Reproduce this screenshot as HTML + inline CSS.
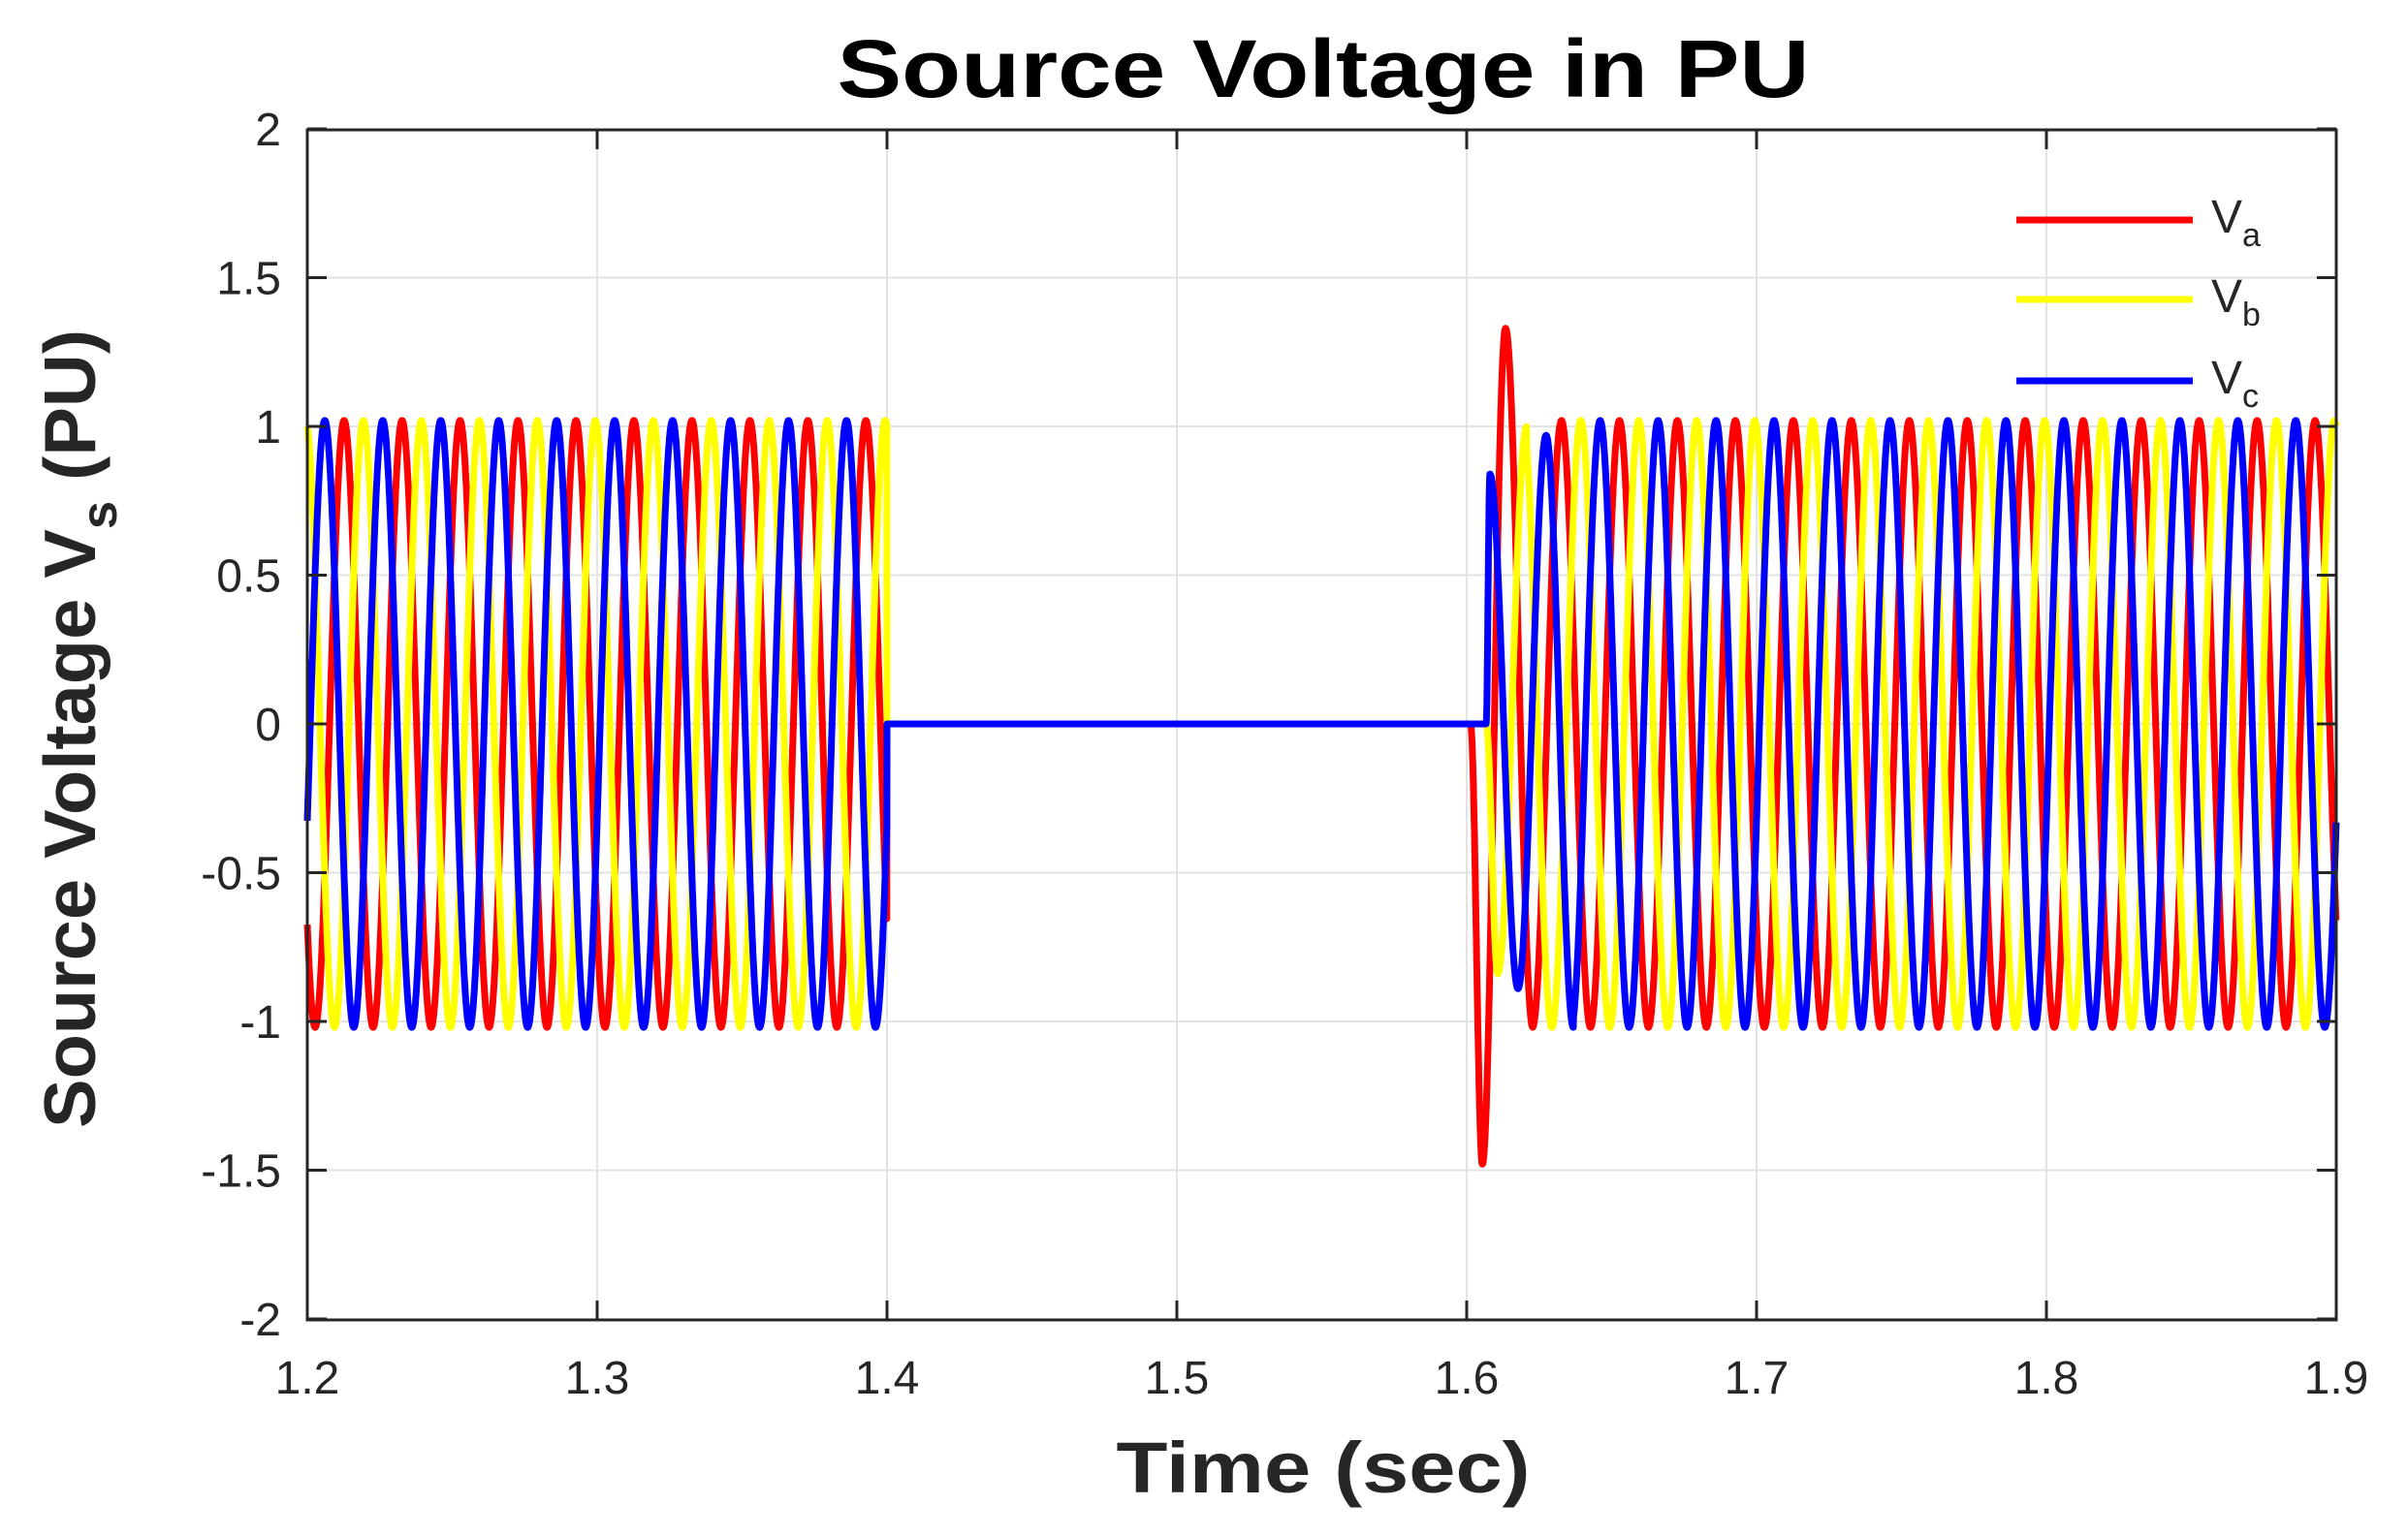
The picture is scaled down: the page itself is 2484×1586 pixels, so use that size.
<!DOCTYPE html>
<html><head><meta charset="utf-8"><style>html,body{margin:0;padding:0;background:#fff}svg{display:block}</style></head>
<body>
<svg id="s" width="2484" height="1586" viewBox="0 0 2484 1586" xmlns="http://www.w3.org/2000/svg" font-family="Liberation Sans, sans-serif">
<rect width="2484" height="1586" fill="#fff"/>
<g id="grid" stroke="#e3e3e3" stroke-width="2"></g>
<g id="series" fill="none" stroke-width="7" stroke-linejoin="round"></g>
<g id="axes" stroke="#262626" stroke-width="3" fill="none"></g>
<g id="labels" fill="#262626" font-size="48"></g>
<text x="1365" y="100" text-anchor="middle" font-size="84" font-weight="bold" fill="#000" textLength="1003" lengthAdjust="spacingAndGlyphs">Source Voltage in PU</text>
<text x="1365" y="1540" text-anchor="middle" font-size="74" font-weight="bold" fill="#262626" textLength="427" lengthAdjust="spacingAndGlyphs">Time (sec)</text>
<text transform="translate(98,752) rotate(-90)" text-anchor="middle" font-size="75" font-weight="bold" fill="#262626" textLength="824" lengthAdjust="spacingAndGlyphs">Source Voltage V<tspan font-size="52" dy="22">s</tspan><tspan dy="-22"> (PU)</tspan></text>
<g stroke-width="7">
<line x1="2080" y1="227" x2="2262" y2="227" stroke="#ff0000"/>
<line x1="2080" y1="309" x2="2262" y2="309" stroke="#ffff00"/>
<line x1="2080" y1="393" x2="2262" y2="393" stroke="#0000ff"/>
</g>
<g fill="#262626" font-size="48">
<text x="2281" y="240">V<tspan font-size="34" dy="14">a</tspan></text>
<text x="2281" y="322">V<tspan font-size="34" dy="14">b</tspan></text>
<text x="2281" y="406">V<tspan font-size="34" dy="14">c</tspan></text>
</g>
</svg>
<script>
(function(){
var NS="http://www.w3.org/2000/svg";
var L=317,R=2410,T=134,B=1362;
function X(t){return L+(t-1.2)/0.7*(R-L);}
function Y(v){return 747-v*307;}
function el(p,n,a){var e=document.createElementNS(NS,n);for(var k in a)e.setAttribute(k,a[k]);document.getElementById(p).appendChild(e);return e;}
for(var i=0;i<=7;i++){var x=X(1.2+i*0.1);if(i>0&&i<7)el('grid','line',{x1:x,y1:T,x2:x,y2:B});}
for(var j=-3;j<=3;j++){var y=Y(j*0.5);el('grid','line',{x1:L,y1:y,x2:R,y2:y});}
el('axes','rect',{x:L,y:T,width:R-L,height:B-T});
for(var i=0;i<=7;i++){var x=X(1.2+i*0.1);el('axes','line',{x1:x,y1:B,x2:x,y2:B-20});el('axes','line',{x1:x,y1:T,x2:x,y2:T+20});
 var tx=el('labels','text',{x:x,y:1438,'text-anchor':'middle'});tx.textContent=(1.2+i*0.1).toFixed(1);}
var yl=['-2','-1.5','-1','-0.5','0','0.5','1','1.5','2'];
for(var j=-4;j<=4;j++){var y=Y(j*0.5);el('axes','line',{x1:L,y1:y,x2:L+20,y2:y});el('axes','line',{x1:R,y1:y,x2:R-20,y2:y});
 var tx=el('labels','text',{x:290,y:y+17,'text-anchor':'end'});tx.textContent=yl[j+4];}
var w=2*Math.PI*50,t0=1.2127,A=1.02;
function steady(t,k){return A*Math.cos(w*(t-t0)-k*2*Math.PI/3);}
function interp(t,pts){for(var i=0;i<pts.length-1;i++){var a=pts[i],b=pts[i+1];if(t>=a[0]&&t<=b[0]){var u=(t-a[0])/(b[0]-a[0]);var s=(1-Math.cos(Math.PI*u))/2;return a[1]+(b[1]-a[1])*s;}}return null;}
var tr=[
 [[1.6013,0],[1.6054,-1.48],[1.6134,1.33],[1.6228,-1.02]],
 [[1.6067,0],[1.6107,-0.84],[1.6207,1.0]],
 [[1.6067,0],[1.6080,0.84],[1.6177,-0.89],[1.6274,0.97],[1.6368,-1.02]]
];
function val(t,k){
 if(t<=1.4)return steady(t,k);
 var p=tr[k];
 if(t<p[0][0])return 0;
 if(t<=p[p.length-1][0])return interp(t,p);
 return steady(t,k);
}
var cols=['#ff0000','#ffff00','#0000ff'];
for(var k=0;k<3;k++){
 var d='',dt=0.00008;
 for(var t=1.2;t<=1.4+1e-9;t+=dt){d+=(d?'L':'M')+X(t).toFixed(1)+' '+Y(val(t,k)).toFixed(1);}
 d+='L'+X(1.4).toFixed(1)+' '+Y(0)+'L'+X(tr[k][0][0]).toFixed(1)+' '+Y(0);
 for(var t=tr[k][0][0];t<=1.9+1e-9;t+=dt){d+='L'+X(t).toFixed(1)+' '+Y(val(t,k)).toFixed(1);}
 el('series','path',{d:d,stroke:cols[k]});
}
})();
</script>
</body></html>
